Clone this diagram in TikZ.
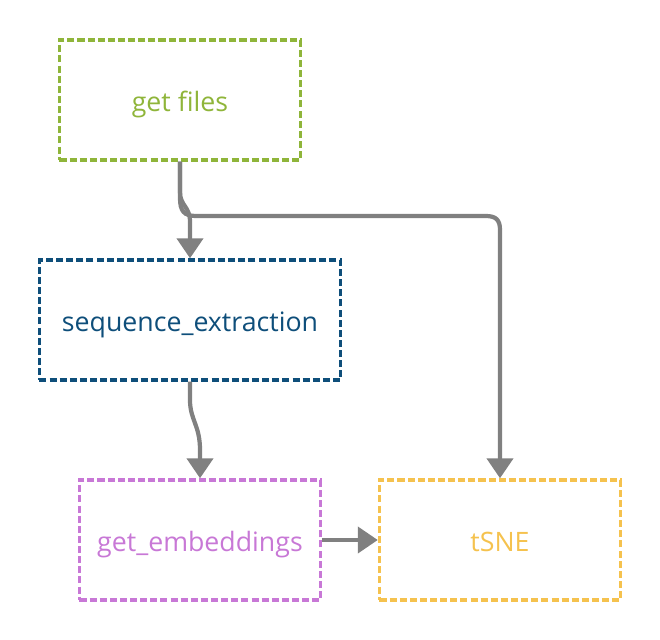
\documentclass[tikz,border=0pt]{standalone}
\usepackage{fontspec}
\setmainfont{Open Sans}
\usetikzlibrary{arrows.meta}
\definecolor{filesgreen}{RGB}{143,181,58}
\definecolor{seqblue}{RGB}{14,78,122}
\definecolor{embpurple}{RGB}{200,120,214}
\definecolor{tsneyellow}{RGB}{245,194,78}

\begin{document}
\begin{tikzpicture}[x=0.025cm, y=-0.025cm,
		stage/.style={draw, line width=2.4pt, dash pattern=on 5pt off 2.2pt, minimum width=6.025cm, minimum height=3cm, text height=0.6cm, text depth=0.05cm, font=\fontsize{19}{23}\selectfont},
		flow/.style={draw=black!50, line width=3pt, -{Triangle[width=0.65cm,length=0.5cm]}}]
		%%%%% START %%%%%
		
		\useasboundingbox (0, 0) rectangle (660, 640);
		
		\node[stage, draw=filesgreen, text=filesgreen] (files) at (180, 100) {get files};
		\node[stage, draw=seqblue, text=seqblue, minimum width=7.525cm] (seq) at (190, 320) {sequence\_extraction};
		\node[stage, draw=embpurple, text=embpurple] (emb) at (200, 540) {get\_embeddings};
		\node[stage, draw=tsneyellow, text=tsneyellow] (tsne) at (500, 540) {tSNE};
		
		\draw[flow] (files.south) -- (180, 192) .. controls (180, 206) and (190, 206) .. (190, 222) -- (seq.north);
		\draw[flow] (files.south) -- (180, 198) .. controls (180, 211) and (184, 216) .. (196, 216) -- (486, 216) .. controls (496, 216) and (500, 220) .. (500, 230) -- (tsne.north);
		
		\draw[flow] (seq.south) -- (190, 400) .. controls (190, 420) and (200, 425) .. (200, 450) -- (emb.north);
		\draw[flow] (emb.east) -- (tsne.west);
		
		%%%%% END %%%%%
	\end{tikzpicture}
\end{document}
